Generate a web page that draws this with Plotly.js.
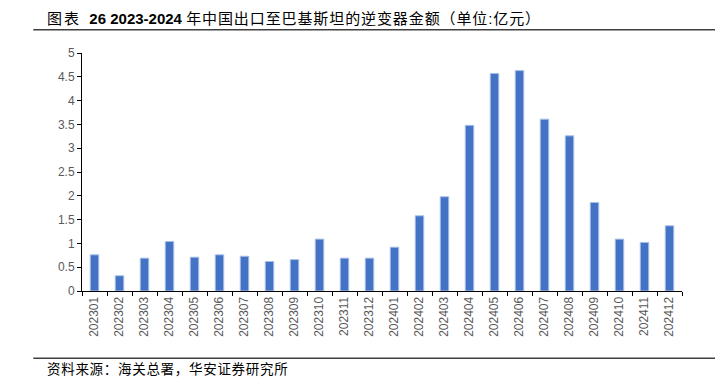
<!DOCTYPE html>
<html>
<head>
<meta charset="utf-8">
<script src="https://cdn.plot.ly/plotly-3.0.1.min.js"></script>
<style>
html,body{margin:0;padding:0;background:#fff;}
#chart{width:715px;height:377px;}
</style>
</head>
<body>
<div id="chart"></div>
<script>
var months = ["202301","202302","202303","202304","202305","202306","202307","202308","202309","202310","202311","202312",
              "202401","202402","202403","202404","202405","202406","202407","202408","202409","202410","202411","202412"];
var amounts = [0.76,0.32,0.69,1.04,0.71,0.76,0.73,0.62,0.66,1.09,0.69,0.69,
               0.92,1.58,1.98,3.48,4.57,4.63,3.61,3.26,1.86,1.09,1.02,1.37];
var yTicks = [0,0.5,1,1.5,2,2.5,3,3.5,4,4.5,5];
var yTickText = ["0","0.5","1","1.5","2","2.5","3","3.5","4","4.5","5"];
var titleLabel = "图表";
var titleNumber = "26 2023-2024";
var titleMain = "年中国出口至巴基斯坦的逆变器金额（单位:亿元）";
var sourceText = "资料来源：海关总署，华安证券研究所";

var trace = {
  type: "bar",
  x: months,
  y: amounts,
  width: 0.34,
  marker: {color: "#4472C4", line: {color: "#A9C0E8", width: 1}},
  hoverinfo: "x+y"
};

var cjkSpan = function (s, sp) { return '<span style="letter-spacing:' + sp + 'px">' + s + '</span>'; };

var layout = {
  width: 715, height: 377,
  margin: {l: 81.7, r: 33.3, t: 52.7, b: 85.5, pad: 0},
  paper_bgcolor: "#fff", plot_bgcolor: "#fff",
  showlegend: false,
  font: {family: "Arial, Liberation Sans, sans-serif", color: "#595959", size: 12},
  xaxis: {
    type: "category",
    showline: true, linecolor: "#000", linewidth: 1,
    ticks: "outside", ticklen: 4, tickcolor: "#000", tickwidth: 1,
    tickson: "boundaries",
    tickangle: -90,
    tickfont: {family: "Arial, Liberation Sans, sans-serif", size: 12, color: "#595959"},
    showgrid: false, zeroline: false, fixedrange: true
  },
  yaxis: {
    range: [0, 5],
    tickvals: yTicks, ticktext: yTickText,
    showline: true, linecolor: "#000", linewidth: 1,
    ticks: "outside", ticklen: 4, tickcolor: "#000", tickwidth: 1,
    tickfont: {family: "Arial, Liberation Sans, sans-serif", size: 12, color: "#595959"},
    showgrid: false, zeroline: false, fixedrange: true
  },
  shapes: [
    {type: "line", xref: "paper", yref: "paper", x0: -0.0812, x1: 1.06, y0: 1.098, y1: 1.098,
     line: {color: "#404040", width: 1.5}},
    {type: "line", xref: "paper", yref: "paper", x0: -0.0812, x1: 1.06, y0: -0.2827, y1: -0.2827,
     line: {color: "#404040", width: 1.5}}
  ],
  annotations: [
    {xref: "paper", yref: "paper", x: -0.062, y: 1.145, xanchor: "left", yanchor: "middle",
     text: cjkSpan(titleLabel, 2) + "  <b>" + titleNumber + "</b> " + cjkSpan(titleMain, 0.9),
     showarrow: false,
     font: {family: "Arial, 'Noto Sans CJK SC', sans-serif", size: 15, color: "#000"}},
    {xref: "paper", yref: "paper", x: -0.062, y: -0.324, xanchor: "left", yanchor: "middle",
     text: cjkSpan(sourceText, 0.7), showarrow: false,
     font: {family: "'Noto Sans CJK SC', sans-serif", size: 13.5, color: "#000"}}
  ]
};

Plotly.newPlot("chart", [trace], layout, {displayModeBar: false, staticPlot: true});
</script>
</body>
</html>
